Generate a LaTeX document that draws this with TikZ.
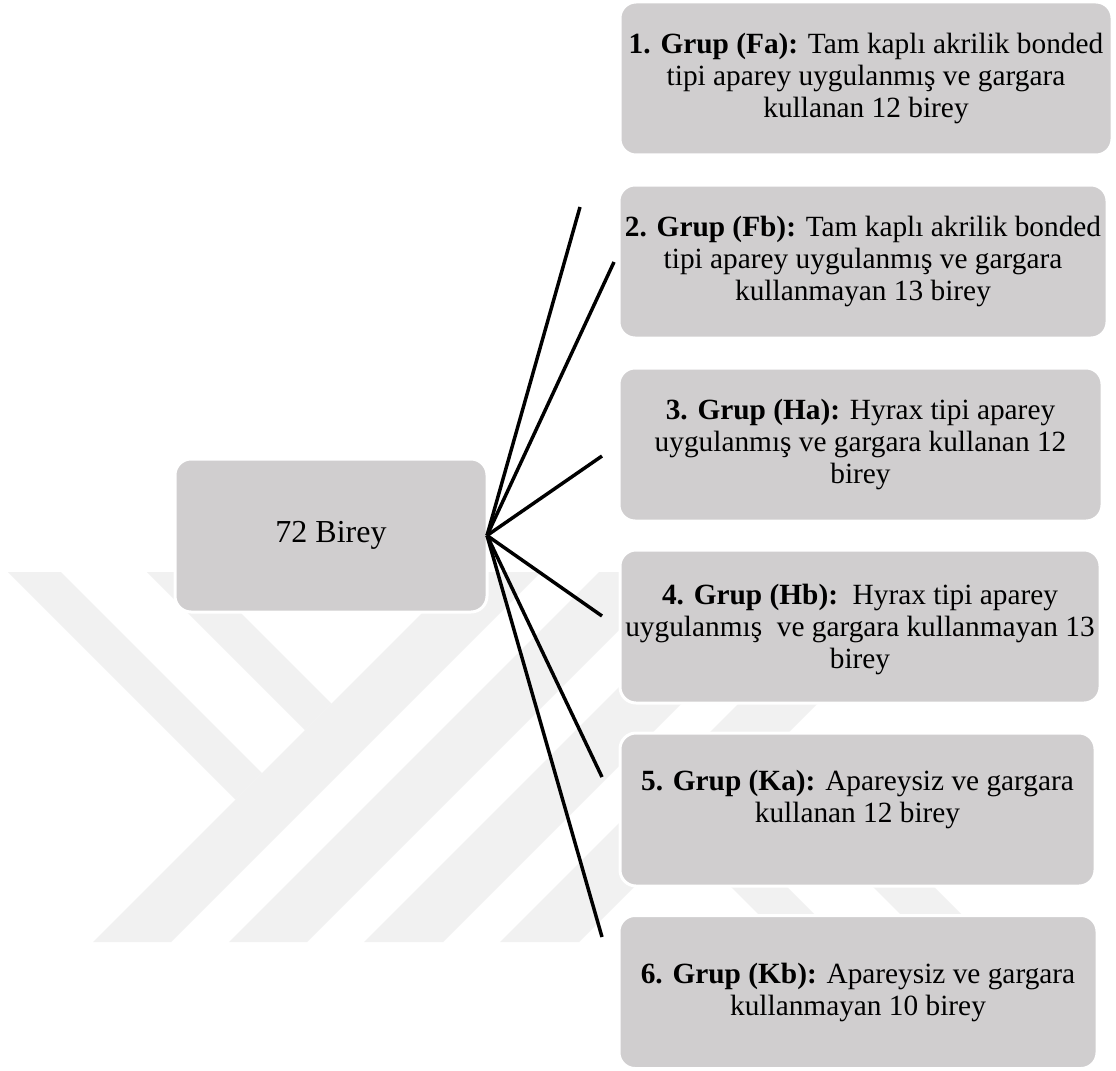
\documentclass[tikz,border=0pt]{standalone}
\usepackage{fontspec}
\setmainfont{Liberation Serif}
\definecolor{boxgray}{RGB}{208,206,207}
\definecolor{wmgray}{RGB}{241,241,241}
\begin{document}
\begin{tikzpicture}[x=0.75pt,y=-0.75pt,
  box/.style={draw=white,line width=2.25pt,fill=boxgray,rounded corners=12pt,
    minimum height=153*0.75pt,inner sep=0pt,outer sep=0pt},
  txt/.style={align=center,font=\fontsize{22}{24}\selectfont,inner sep=0pt},
  wm/.style={fill=wmgray,draw=none},
  conn/.style={draw=black,line width=2.6pt}]
\useasboundingbox[fill=white] (0,0) rectangle (1116,1070);
% watermark
\fill[wm] (93,942) -- (171,942) -- (541,572) -- (463,572) -- cycle;
\fill[wm] (229,942) -- (307,942) -- (677,572) -- (599,572) -- cycle;
\fill[wm] (364,942) -- (443,942) -- (813,572) -- (734,572) -- cycle;
\fill[wm] (500,942) -- (579,942) -- (949,572) -- (870,572) -- cycle;
\fill[wm] (8,572) -- (61,572) -- (262,773) -- (235.5,799.5) -- cycle;
\fill[wm] (147,572) -- (200,572) -- (331.5,703.5) -- (305,730) -- cycle;
\fill[wm] (704,860) -- (760,860) -- (842,942) -- (786,942) -- cycle;
\fill[wm] (846,860) -- (907,860) -- (989,942) -- (928,942) -- cycle;
% boxes (positions)
\node[box,minimum width=312*0.75pt] (b0) at (331,535.5) {};
\node[box,minimum width=492*0.75pt] (g1) at (866,78.5) {};
\node[box,minimum width=488*0.75pt] (g2) at (863,261.5) {};
\node[box,minimum width=483*0.75pt] (g3) at (860.5,444.5) {};
\node[box,minimum width=480*0.75pt] (g4) at (860,626.5) {};
\node[box,minimum width=475*0.75pt] (g5) at (857.5,809.5) {};
\node[box,minimum width=478*0.75pt] (g6) at (858,992) {};
% connector ends
\coordinate (e1) at (580,207);
\coordinate (e2) at (614,262);
\coordinate (e3) at (602,456);
\coordinate (e4) at (602,616);
\coordinate (e5) at (602,777);
\coordinate (e6) at (602,937);
\foreach \e in {e1,e2,e3,e4,e5,e6} \draw[conn] (b0.east) -- (\e);
% texts
\node[txt,font=\fontsize{24}{26}\selectfont] (t0) at (b0.center) {72 Birey};
\node[txt] (t1) at (g1.center) {\textbf{1. Grup (Fa):} Tam kaplı akrilik bonded\\ tipi aparey uygulanmış ve gargara\\ kullanan 12 birey};
\node[txt] (t2) at (g2.center) {\textbf{2. Grup (Fb):} Tam kaplı akrilik bonded\\ tipi aparey uygulanmış ve gargara\\ kullanmayan 13 birey};
\node[txt] (t3) at (g3.center) {\textbf{3. Grup (Ha):} Hyrax tipi aparey\\ uygulanmış ve gargara kullanan 12\\ birey};
\node[txt] (t4) at ([yshift=-3*0.75pt]g4.center) {\textbf{4. Grup (Hb):}\ \ Hyrax tipi aparey\\ uygulanmış\ \ ve gargara kullanmayan 13\\ birey};
\node[txt] (t5) at ([yshift=10*0.75pt]g5.center) {\textbf{5. Grup (Ka):} Apareysiz ve gargara\\ kullanan 12 birey};
\node[txt] (t6) at (g6.center) {\textbf{6. Grup (Kb):} Apareysiz ve gargara\\ kullanmayan 10 birey};
\end{tikzpicture}
\end{document}
